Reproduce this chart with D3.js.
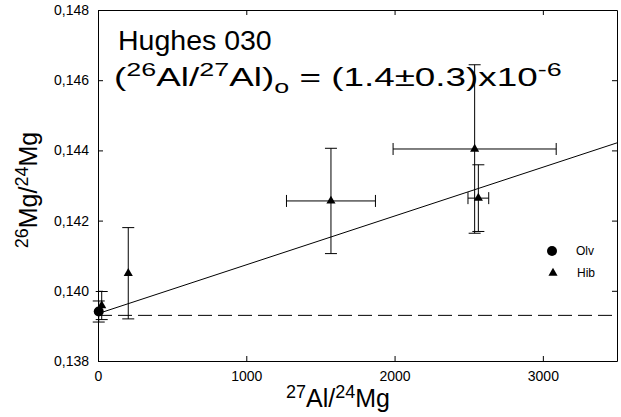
<!DOCTYPE html>
<html>
<head>
<meta charset="utf-8">
<script src="https://cdn.jsdelivr.net/npm/d3@7"></script>
<style>
  body { margin: 0; background: #fff; }
  text { font-family: "Liberation Sans", Arial, sans-serif; fill: #000; }
</style>
</head>
<body>
<svg id="chart"></svg>
<script>
var width = 621;
var height = 417;
var margin = { top: 10, right: 4, bottom: 56, left: 98 };

// data
var olvX = [5];
var olvY = [0.13941];
var olvYErr = [0.0003];

var hibX = [25, 204, 1571, 2540, 2565];
var hibY = [0.13958, 0.14050, 0.14256, 0.14404, 0.14264];
var hibYErr = [0.0004, 0.0013, 0.0015, 0.0024, 0.00095];
var hibXErr = [0, 0, 300, 550, 70];

var fitSlope = 1.39e-6;
var fitIntercept = 0.13935;
var refLevel = 0.1393;

var xTicks = [0, 1000, 2000, 3000];
var yTicks = [0.138, 0.140, 0.142, 0.144, 0.146, 0.148];

var svg = d3.select('#chart')
  .attr('width', width)
  .attr('height', height);

var x = d3.scaleLinear()
  .domain([0, 3500])
  .range([margin.left, width - margin.right]);

var y = d3.scaleLinear()
  .domain([0.138, 0.148])
  .range([height - margin.bottom, margin.top]);

var fmt = function(d) { return d3.format('.3f')(d).replace('.', ','); };

// axes, ticks inward on all sides
svg.append('g')
  .attr('transform', 'translate(0,' + y.range()[0] + ')')
  .call(d3.axisBottom(x).tickValues(xTicks).tickSize(-5).tickPadding(10).tickFormat(d3.format('d')).tickSizeOuter(0))
  .call(function(g) { g.selectAll('text').attr('font-size', 14); });

svg.append('g')
  .attr('transform', 'translate(0,' + y.range()[1] + ')')
  .call(d3.axisTop(x).tickValues(xTicks).tickSize(-5).tickFormat('').tickSizeOuter(0));

svg.append('g')
  .attr('transform', 'translate(' + x.range()[0] + ',0)')
  .call(d3.axisLeft(y).tickValues(yTicks).tickSize(-5).tickPadding(9).tickFormat(fmt).tickSizeOuter(0))
  .call(function(g) { g.selectAll('text').attr('font-size', 14); });

svg.append('g')
  .attr('transform', 'translate(' + x.range()[1] + ',0)')
  .call(d3.axisRight(y).tickValues(yTicks).tickSize(-5).tickFormat('').tickSizeOuter(0));

svg.selectAll('.domain').attr('stroke', '#000');
svg.selectAll('.tick line').attr('stroke', '#000');
svg.selectAll('.tick text').attr('font-family', '"Liberation Sans", Arial, sans-serif').attr('fill', '#000');

// reference level and fit line
svg.append('line')
  .attr('x1', x(0)).attr('x2', x(3500))
  .attr('y1', y(refLevel)).attr('y2', y(refLevel))
  .attr('stroke', '#000')
  .attr('stroke-dasharray', '14,6');

svg.append('line')
  .attr('x1', x(0)).attr('x2', x(3500))
  .attr('y1', y(fitIntercept)).attr('y2', y(fitIntercept + fitSlope * 3500))
  .attr('stroke', '#000');

// error bars
var cap = 6;
var bars = svg.append('g').attr('stroke', '#000').attr('fill', 'none');

function errorBars(xs, ys, yerr, xerr) {
  xs.forEach(function(v, i) {
    var cx = x(v), cy = y(ys[i]);
    var y1 = y(ys[i] - yerr[i]), y2 = y(ys[i] + yerr[i]);
    bars.append('path')
      .attr('d', 'M' + cx + ',' + y1 + 'V' + y2 +
        'M' + (cx - cap) + ',' + y1 + 'H' + (cx + cap) +
        'M' + (cx - cap) + ',' + y2 + 'H' + (cx + cap));
    if (xerr && xerr[i] > 0) {
      var x1 = x(v - xerr[i]), x2 = x(v + xerr[i]);
      bars.append('path')
        .attr('d', 'M' + x1 + ',' + cy + 'H' + x2 +
          'M' + x1 + ',' + (cy - cap) + 'V' + (cy + cap) +
          'M' + x2 + ',' + (cy - cap) + 'V' + (cy + cap));
    }
  });
}
errorBars(olvX, olvY, olvYErr, null);
errorBars(hibX, hibY, hibYErr, hibXErr);

// markers
var circle = d3.symbol().type(d3.symbolCircle).size(78);
var triangle = d3.symbol().type(d3.symbolTriangle).size(36);

svg.append('g').selectAll('path')
  .data(olvX)
  .join('path')
  .attr('transform', function(d, i) { return 'translate(' + x(d) + ',' + y(olvY[i]) + ')'; })
  .attr('d', circle)
  .attr('fill', '#000');

svg.append('g').selectAll('path')
  .data(hibX)
  .join('path')
  .attr('transform', function(d, i) { return 'translate(' + x(d) + ',' + y(hibY[i]) + ')'; })
  .attr('d', triangle)
  .attr('fill', '#000');

// legend
svg.append('path').attr('d', circle).attr('fill', '#000')
  .attr('transform', 'translate(552,251)');
svg.append('path').attr('d', triangle).attr('fill', '#000')
  .attr('transform', 'translate(553,273)');
svg.append('text').attr('x', 576).attr('y', 255).attr('font-size', 12).text('Olv');
svg.append('text').attr('x', 577).attr('y', 277).attr('font-size', 12).text('Hib');

// annotations
svg.append('text').attr('x', 118).attr('y', 50).attr('font-size', 28.5).text('Hughes 030');

var f = svg.append('text').attr('x', 114).attr('y', 86).attr('font-size', 26);
f.append('tspan').text('(');
f.append('tspan').attr('font-size', 19).attr('dy', -10).text('26');
f.append('tspan').attr('dy', 10).text('Al/');
f.append('tspan').attr('font-size', 19).attr('dy', -10).text('27');
f.append('tspan').attr('dy', 10).text('Al)');
f.append('tspan').attr('font-size', 19).attr('dy', 7).text('o');
f.append('tspan').attr('dy', -7).text(' = (1.4\u00b10.3)x10');
f.append('tspan').attr('font-size', 19).attr('dy', -10).text('-6');
// the source stretches this line wider than the font does
var fw = f.node().getBBox().width;
f.attr('transform', 'translate(114,0) scale(' + (448 / fw) + ',1) translate(-114,0)');

// axis titles
var xl = svg.append('text').attr('x', 338).attr('y', 407).attr('font-size', 25).attr('text-anchor', 'middle');
xl.append('tspan').attr('font-size', 18).attr('dy', -9).text('27');
xl.append('tspan').attr('dy', 9).text('Al/');
xl.append('tspan').attr('font-size', 18).attr('dy', -9).text('24');
xl.append('tspan').attr('dy', 9).text('Mg');

var yl = svg.append('text')
  .attr('transform', 'translate(37,190) rotate(-90)')
  .attr('font-size', 25).attr('text-anchor', 'middle');
yl.append('tspan').attr('font-size', 18).attr('dy', -9).text('26');
yl.append('tspan').attr('dy', 9).text('Mg/');
yl.append('tspan').attr('font-size', 18).attr('dy', -9).text('24');
yl.append('tspan').attr('dy', 9).text('Mg');
</script>
</body>
</html>
